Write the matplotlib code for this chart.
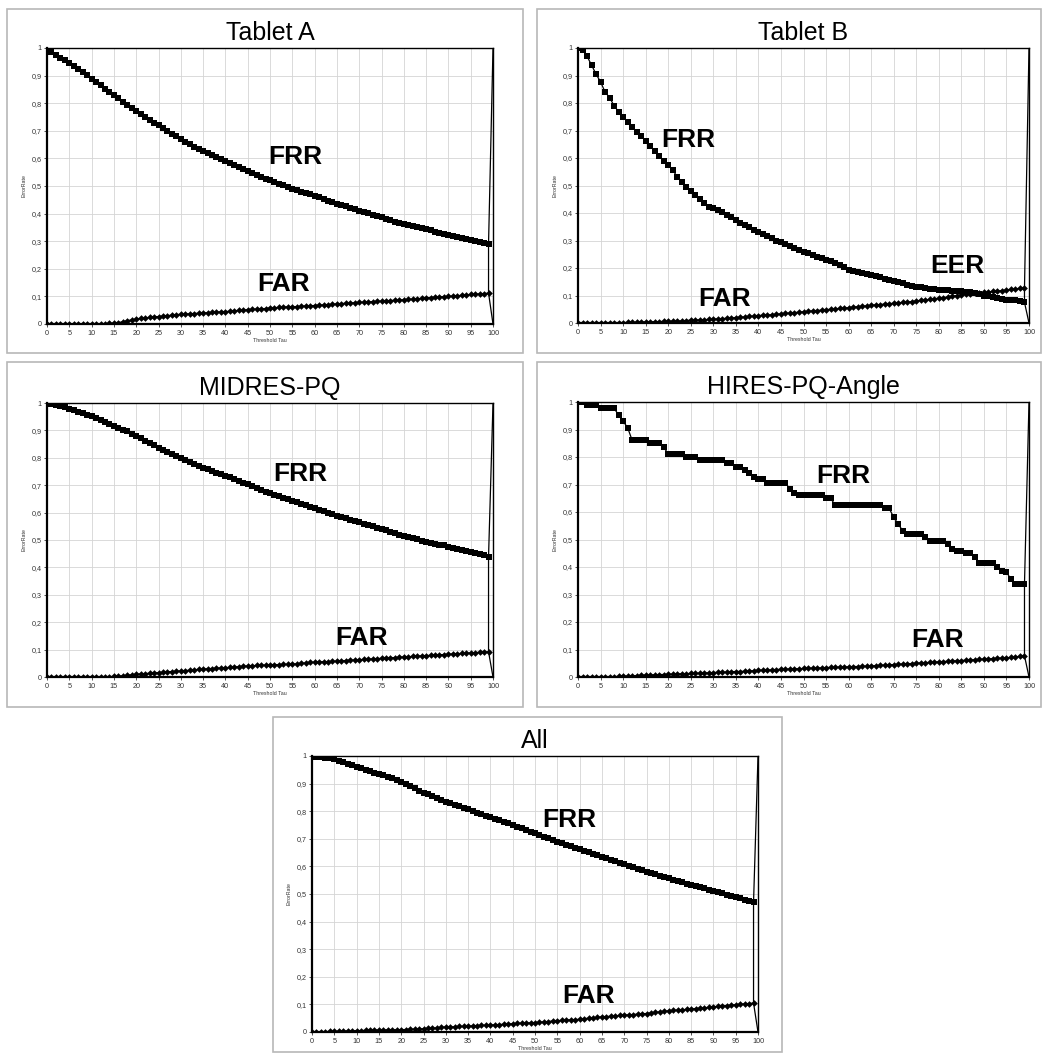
import matplotlib.pyplot as plt
from matplotlib.patches import Rectangle
from matplotlib.ticker import FuncFormatter

plt.rcParams['font.family'] = ['Liberation Sans', 'DejaVu Sans']

tau = list(range(100))

titles = ["Tablet A", "Tablet B", "MIDRES-PQ", "HIRES-PQ-Angle", "All"]

frr_tablet_a = [
    0.995, 0.985, 0.975, 0.965, 0.955, 0.945, 0.935, 0.925, 0.913, 0.901,
    0.889, 0.877, 0.865, 0.853, 0.841, 0.829, 0.818, 0.806, 0.795, 0.784,
    0.773, 0.762, 0.751, 0.740, 0.730, 0.720, 0.710, 0.700, 0.690, 0.680,
    0.670, 0.661, 0.652, 0.643, 0.634, 0.626, 0.618, 0.611, 0.604, 0.597,
    0.590, 0.583, 0.576, 0.569, 0.562, 0.555, 0.548, 0.541, 0.534, 0.527,
    0.520, 0.514, 0.508, 0.502, 0.496, 0.490, 0.485, 0.480, 0.475, 0.470,
    0.465, 0.459, 0.453, 0.447, 0.441, 0.436, 0.431, 0.426, 0.421, 0.416,
    0.411, 0.406, 0.401, 0.396, 0.391, 0.386, 0.381, 0.376, 0.371, 0.366,
    0.361, 0.358, 0.355, 0.352, 0.349, 0.345, 0.340, 0.335, 0.330, 0.325,
    0.321, 0.318, 0.315, 0.312, 0.308, 0.305, 0.301, 0.298, 0.295, 0.291,
]
far_tablet_a = [
    0, 0, 0, 0, 0, 0, 0, 0, 0, 0,
    0, 0, 0, 0.001, 0.002, 0.003, 0.005, 0.008, 0.012, 0.015,
    0.018, 0.020, 0.022, 0.024, 0.026, 0.027, 0.028, 0.030, 0.032, 0.034,
    0.035, 0.036, 0.037, 0.038, 0.039, 0.040, 0.041, 0.042, 0.043, 0.044,
    0.045, 0.046, 0.048, 0.049, 0.050, 0.052, 0.053, 0.054, 0.055, 0.056,
    0.058, 0.059, 0.060, 0.061, 0.062, 0.062, 0.063, 0.064, 0.065, 0.066,
    0.067, 0.068, 0.069, 0.070, 0.071, 0.073, 0.074, 0.075, 0.076, 0.077,
    0.078, 0.079, 0.080, 0.081, 0.082, 0.083, 0.084, 0.085, 0.086, 0.087,
    0.088, 0.089, 0.090, 0.091, 0.093, 0.095, 0.096, 0.097, 0.098, 0.099,
    0.100, 0.101, 0.102, 0.104, 0.105, 0.107, 0.108, 0.109, 0.110, 0.112,
]

frr_tablet_b = [
    1.000, 0.993, 0.970, 0.938, 0.905, 0.877, 0.840, 0.820, 0.790, 0.768,
    0.748, 0.732, 0.714, 0.695, 0.680, 0.663, 0.644, 0.627, 0.607, 0.590,
    0.575, 0.556, 0.532, 0.514, 0.496, 0.480, 0.465, 0.450, 0.435, 0.423,
    0.417, 0.411, 0.404, 0.394, 0.384, 0.375, 0.365, 0.356, 0.348, 0.338,
    0.330, 0.324, 0.316, 0.308, 0.300, 0.294, 0.287, 0.280, 0.274, 0.267,
    0.260, 0.254, 0.247, 0.240, 0.235, 0.230, 0.226, 0.219, 0.211, 0.202,
    0.193, 0.189, 0.185, 0.182, 0.178, 0.175, 0.171, 0.166, 0.161, 0.156,
    0.153, 0.149, 0.144, 0.139, 0.135, 0.132, 0.130, 0.126, 0.124, 0.122,
    0.121, 0.120, 0.119, 0.118, 0.117, 0.115, 0.113, 0.111, 0.108, 0.104,
    0.100, 0.097, 0.095, 0.091, 0.087, 0.085, 0.084, 0.083, 0.080, 0.075,
]
far_tablet_b = [
    0, 0, 0, 0, 0, 0, 0, 0, 0.001, 0.001,
    0.001, 0.002, 0.002, 0.003, 0.003, 0.004, 0.004, 0.005, 0.005, 0.006,
    0.006, 0.007, 0.007, 0.008, 0.009, 0.010, 0.011, 0.011, 0.012, 0.013,
    0.014, 0.015, 0.016, 0.017, 0.018, 0.020, 0.021, 0.022, 0.024, 0.025,
    0.027, 0.028, 0.029, 0.030, 0.032, 0.033, 0.035, 0.036, 0.038, 0.039,
    0.041, 0.042, 0.044, 0.045, 0.047, 0.048, 0.050, 0.051, 0.053, 0.054,
    0.056, 0.058, 0.059, 0.061, 0.062, 0.064, 0.066, 0.067, 0.069, 0.070,
    0.072, 0.073, 0.075, 0.076, 0.078, 0.080, 0.082, 0.084, 0.086, 0.088,
    0.090, 0.092, 0.095, 0.097, 0.100, 0.102, 0.104, 0.106, 0.108, 0.110,
    0.111, 0.113, 0.115, 0.116, 0.118, 0.120, 0.122, 0.124, 0.126, 0.128,
]

frr_midres = [
    0.998, 0.996, 0.993, 0.989, 0.984, 0.978, 0.973, 0.968, 0.963, 0.958,
    0.953, 0.946, 0.939, 0.932, 0.925, 0.917, 0.910, 0.903, 0.896, 0.888,
    0.881, 0.872, 0.863, 0.854, 0.845, 0.835, 0.828, 0.820, 0.813, 0.805,
    0.798, 0.791, 0.784, 0.777, 0.771, 0.764, 0.758, 0.752, 0.746, 0.741,
    0.735, 0.729, 0.722, 0.716, 0.709, 0.703, 0.696, 0.690, 0.683, 0.677,
    0.670, 0.665, 0.660, 0.654, 0.649, 0.644, 0.638, 0.633, 0.627, 0.622,
    0.616, 0.611, 0.605, 0.600, 0.594, 0.589, 0.584, 0.579, 0.574, 0.569,
    0.564, 0.559, 0.554, 0.550, 0.545, 0.540, 0.535, 0.530, 0.525, 0.520,
    0.515, 0.511, 0.507, 0.502, 0.498, 0.494, 0.490, 0.487, 0.483, 0.480,
    0.476, 0.472, 0.468, 0.465, 0.461, 0.457, 0.453, 0.448, 0.444, 0.439,
]
far_midres = [
    0, 0, 0, 0, 0, 0, 0, 0, 0, 0,
    0, 0, 0.001, 0.001, 0.001, 0.002, 0.003, 0.004, 0.006, 0.008,
    0.010, 0.011, 0.012, 0.014, 0.015, 0.016, 0.017, 0.019, 0.020, 0.021,
    0.022, 0.023, 0.025, 0.026, 0.028, 0.029, 0.030, 0.031, 0.032, 0.033,
    0.034, 0.035, 0.036, 0.038, 0.039, 0.040, 0.041, 0.042, 0.043, 0.043,
    0.044, 0.045, 0.045, 0.046, 0.046, 0.047, 0.048, 0.050, 0.051, 0.053,
    0.054, 0.055, 0.056, 0.056, 0.057, 0.058, 0.059, 0.060, 0.061, 0.062,
    0.063, 0.064, 0.065, 0.066, 0.067, 0.068, 0.069, 0.070, 0.071, 0.072,
    0.073, 0.074, 0.075, 0.076, 0.077, 0.078, 0.079, 0.080, 0.081, 0.082,
    0.083, 0.084, 0.085, 0.086, 0.087, 0.088, 0.089, 0.090, 0.091, 0.092,
]

frr_hires = [
    1.000, 1.000, 0.990, 0.990, 0.990, 0.977, 0.977, 0.977, 0.977, 0.953,
    0.930, 0.907, 0.861, 0.861, 0.861, 0.861, 0.850, 0.850, 0.850, 0.835,
    0.812, 0.812, 0.812, 0.812, 0.800, 0.800, 0.800, 0.789, 0.789, 0.789,
    0.789, 0.789, 0.789, 0.777, 0.777, 0.765, 0.765, 0.753, 0.741, 0.728,
    0.719, 0.719, 0.707, 0.707, 0.707, 0.707, 0.707, 0.682, 0.670, 0.662,
    0.662, 0.662, 0.662, 0.662, 0.662, 0.650, 0.650, 0.626, 0.626, 0.626,
    0.626, 0.626, 0.626, 0.626, 0.626, 0.626, 0.626, 0.626, 0.613, 0.613,
    0.581, 0.556, 0.532, 0.520, 0.520, 0.520, 0.520, 0.508, 0.495, 0.495,
    0.495, 0.495, 0.484, 0.465, 0.460, 0.460, 0.450, 0.450, 0.435, 0.416,
    0.416, 0.416, 0.416, 0.401, 0.387, 0.381, 0.356, 0.340, 0.340, 0.340,
]
far_hires = [
    0, 0, 0, 0, 0, 0, 0, 0, 0.001, 0.002,
    0.003, 0.003, 0.004, 0.005, 0.006, 0.007, 0.007, 0.008, 0.009, 0.009,
    0.010, 0.010, 0.011, 0.012, 0.012, 0.013, 0.013, 0.014, 0.015, 0.015,
    0.016, 0.017, 0.017, 0.018, 0.019, 0.020, 0.020, 0.021, 0.022, 0.023,
    0.024, 0.025, 0.025, 0.026, 0.027, 0.028, 0.028, 0.029, 0.030, 0.030,
    0.031, 0.032, 0.032, 0.033, 0.033, 0.034, 0.035, 0.035, 0.036, 0.036,
    0.037, 0.038, 0.038, 0.039, 0.039, 0.040, 0.041, 0.042, 0.043, 0.044,
    0.045, 0.046, 0.047, 0.048, 0.049, 0.050, 0.051, 0.052, 0.053, 0.054,
    0.055, 0.056, 0.057, 0.058, 0.059, 0.060, 0.061, 0.062, 0.063, 0.064,
    0.065, 0.066, 0.067, 0.068, 0.069, 0.070, 0.071, 0.073, 0.075, 0.077,
]

frr_all = [
    0.998, 0.997, 0.995, 0.993, 0.991, 0.988, 0.983, 0.978, 0.972, 0.967,
    0.961, 0.956, 0.951, 0.946, 0.940, 0.935, 0.930, 0.924, 0.919, 0.913,
    0.907, 0.899, 0.891, 0.883, 0.875, 0.867, 0.861, 0.854, 0.848, 0.841,
    0.835, 0.829, 0.824, 0.818, 0.813, 0.807, 0.801, 0.795, 0.790, 0.784,
    0.778, 0.772, 0.767, 0.761, 0.756, 0.750, 0.744, 0.738, 0.732, 0.726,
    0.720, 0.714, 0.708, 0.702, 0.696, 0.690, 0.684, 0.679, 0.673, 0.668,
    0.662, 0.657, 0.651, 0.646, 0.640, 0.635, 0.630, 0.624, 0.619, 0.614,
    0.609, 0.603, 0.598, 0.592, 0.587, 0.581, 0.576, 0.571, 0.567, 0.562,
    0.557, 0.552, 0.547, 0.543, 0.538, 0.533, 0.529, 0.524, 0.520, 0.515,
    0.511, 0.507, 0.503, 0.498, 0.494, 0.490, 0.485, 0.480, 0.475, 0.470,
]
far_all = [
    0.000, 0.000, 0.001, 0.001, 0.002, 0.002, 0.003, 0.003, 0.004, 0.004,
    0.005, 0.005, 0.006, 0.006, 0.007, 0.007, 0.007, 0.008, 0.008, 0.008,
    0.008, 0.009, 0.010, 0.010, 0.011, 0.012, 0.013, 0.014, 0.015, 0.017,
    0.018, 0.018, 0.019, 0.020, 0.020, 0.021, 0.022, 0.023, 0.024, 0.024,
    0.025, 0.026, 0.027, 0.028, 0.029, 0.030, 0.031, 0.032, 0.033, 0.033,
    0.034, 0.035, 0.037, 0.038, 0.040, 0.041, 0.042, 0.043, 0.044, 0.045,
    0.046, 0.048, 0.050, 0.051, 0.053, 0.055, 0.056, 0.057, 0.058, 0.060,
    0.061, 0.062, 0.063, 0.065, 0.066, 0.067, 0.069, 0.071, 0.073, 0.075,
    0.077, 0.078, 0.079, 0.080, 0.082, 0.083, 0.085, 0.086, 0.088, 0.089,
    0.091, 0.093, 0.094, 0.096, 0.097, 0.099, 0.100, 0.102, 0.103, 0.105,
]

frr_series = [frr_tablet_a, frr_tablet_b, frr_midres, frr_hires, frr_all]
far_series = [far_tablet_a, far_tablet_b, far_midres, far_hires, far_all]

# curve labels per panel: (text, x, y) in data units
labels = [
    [("FRR", 55.6, 0.605), ("FAR", 53.1, 0.145)],
    [("FRR", 24.4, 0.665), ("FAR", 32.4, 0.087), ("EER", 84.2, 0.207)],
    [("FRR", 56.7, 0.741), ("FAR", 70.6, 0.142)],
    [("FRR", 58.8, 0.731), ("FAR", 79.8, 0.135)],
    [("FRR", 57.6, 0.768), ("FAR", 62.1, 0.130)],
]

W, H = 1045, 1057
# axes rectangles in pixels: left, top, right, bottom
axes_px = [
    (47, 48, 493, 324),
    (578, 48, 1029, 323),
    (47, 403, 493, 677),
    (578, 402, 1029, 677),
    (312, 756, 758, 1032),
]
# panel frames in pixels
boxes_px = [
    (7, 9, 523, 353),
    (537, 9, 1041, 353),
    (7, 362, 523, 707),
    (537, 362, 1041, 707),
    (273, 717, 782, 1052),
]

fig = plt.figure(figsize=(W / 100, H / 100), dpi=100)

for x0, y0, x1, y1 in boxes_px:
    fig.patches.append(Rectangle((x0 / W, 1 - y1 / H), (x1 - x0) / W, (y1 - y0) / H,
                                 transform=fig.transFigure, fill=False,
                                 edgecolor="#b8b8b8", linewidth=1.2))

comma = FuncFormatter(lambda v, p: ("%g" % round(v, 2)).replace(".", ","))

for i, (l, t, r, b) in enumerate(axes_px):
    ax = fig.add_axes([l / W, 1 - b / H, (r - l) / W, (b - t) / H])
    frr = frr_series[i]
    far = far_series[i]

    ax.plot(tau, frr, color="black", lw=0.9, marker="s", markersize=4.5,
            markeredgewidth=0, zorder=3)
    ax.plot(tau, far, color="black", lw=0.9, marker="D", markersize=3.4,
            markeredgewidth=0, zorder=3)
    hi = max(frr[-1], far[-1])
    lo = min(frr[-1], far[-1])
    ax.plot([100, 99, 99, 100], [1, hi, lo, 0], color="black", lw=0.9, zorder=3)

    for txt, lx, ly in labels[i]:
        ax.text(lx, ly, txt, fontsize=19, fontweight="bold", ha="center",
                va="center", zorder=4)

    ax.set_xlim(0, 100)
    ax.set_ylim(0, 1)
    ax.set_xticks(range(0, 101, 5))
    ax.set_yticks([k / 10 for k in range(11)])
    ax.yaxis.set_major_formatter(comma)
    ax.tick_params(labelsize=5.2, length=2.5, width=0.6, pad=1.5,
                   colors="#333333")
    ax.grid(True, color="#d4d4d4", lw=0.6)
    ax.set_axisbelow(True)
    for side in ["left", "bottom"]:
        ax.spines[side].set_linewidth(1.6)
    for side in ["top", "right"]:
        ax.spines[side].set_linewidth(1.0)
    ax.set_xlabel("Threshold Tau", fontsize=3.8, labelpad=1, color="#333333")
    ax.set_ylabel("ErrorRate", fontsize=3.8, color="#333333")
    ax.yaxis.set_label_coords(-0.046, 0.5)
    ax.set_title(titles[i], fontsize=18, pad=6)

plt.savefig("out.png", dpi=100)
plt.close()
